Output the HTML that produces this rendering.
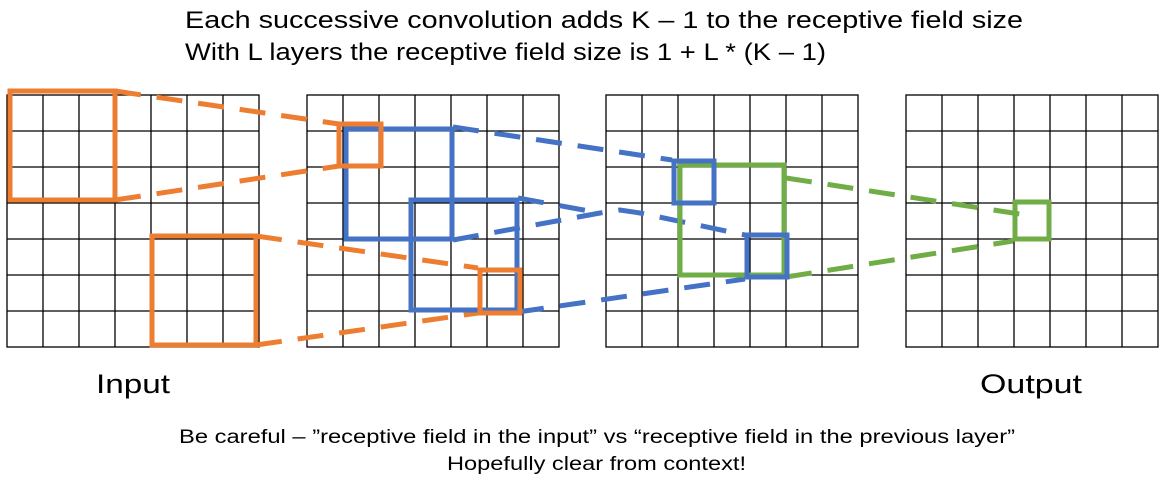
<!DOCTYPE html>
<html><head><meta charset="utf-8"><style>
html,body{margin:0;padding:0;background:#fff;}
svg{display:block;}
text{font-family:"Liberation Sans",sans-serif;fill:#000;}
</style></head><body>
<svg width="1168" height="495" viewBox="0 0 1168 495" xmlns="http://www.w3.org/2000/svg">
<defs>
<g id="grid" stroke="#000" stroke-width="1.3" fill="none">
<rect x="0" y="0" width="252" height="252"/>
<path d="M36 0V252M72 0V252M108 0V252M144 0V252M180 0V252M216 0V252M0 36H252M0 72H252M0 108H252M0 144H252M0 180H252M0 216H252"/>
</g>
</defs>
<text x="185" y="28" font-size="24" textLength="838" lengthAdjust="spacingAndGlyphs">Each successive convolution adds K – 1 to the receptive field size</text>
<text x="185" y="60" font-size="24" textLength="641" lengthAdjust="spacingAndGlyphs">With L layers the receptive field size is 1 + L * (K – 1)</text>
<use href="#grid" x="7" y="95"/>
<use href="#grid" x="307" y="95"/>
<use href="#grid" x="606" y="95"/>
<use href="#grid" x="906" y="95"/>
<g fill="none" stroke-width="5" stroke-dasharray="26 16">
<path stroke="#ED7D31" d="M115 91L339 124M115 200L339 166M256 236L478 268M256 345L478 313"/>
<path stroke="#4472C4" d="M453 127L672 160M453 240L600 213L620 210L640 213L745 235M518 198L600 213M518 312L745 279"/>
<path stroke="#70AD47" d="M786 178L1026 215M786 277L1013 241"/>
</g>
<g fill="none" stroke-width="5">
<rect x="10" y="91" width="105" height="109" stroke="#ED7D31"/>
<rect x="152" y="236" width="104" height="109" stroke="#ED7D31"/>
<rect x="346" y="129" width="106" height="110" stroke="#4472C4"/>
<rect x="411" y="200" width="106" height="110" stroke="#4472C4"/>
<rect x="339" y="124" width="42" height="42" stroke="#ED7D31"/>
<rect x="480" y="270" width="40" height="43" stroke="#ED7D31"/>
<rect x="680" y="165" width="104" height="110" stroke="#70AD47"/>
<rect x="674" y="161" width="40" height="42" stroke="#4472C4"/>
<rect x="747" y="235" width="40" height="42" stroke="#4472C4"/>
<rect x="1015" y="202" width="34" height="37" stroke="#70AD47"/>
</g>
<text x="96" y="393" font-size="27" textLength="74" lengthAdjust="spacingAndGlyphs">Input</text>
<text x="980" y="393" font-size="27" textLength="102" lengthAdjust="spacingAndGlyphs">Output</text>
<text x="179" y="443" font-size="19" textLength="836" lengthAdjust="spacingAndGlyphs">Be careful – ”receptive field in the input” vs “receptive field in the previous layer”</text>
<text x="447" y="470" font-size="19" textLength="299" lengthAdjust="spacingAndGlyphs">Hopefully clear from context!</text>
</svg>
</body></html>
